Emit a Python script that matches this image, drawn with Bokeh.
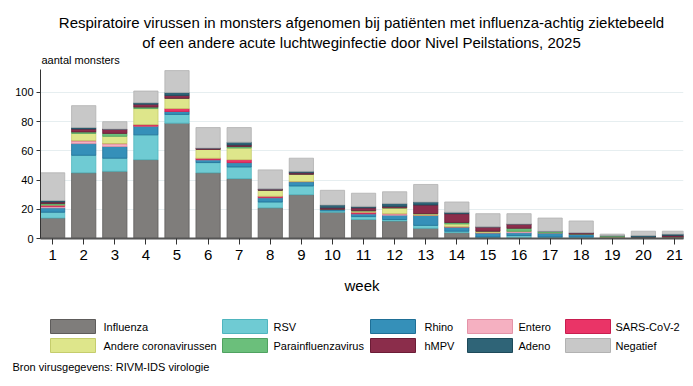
from bokeh.plotting import figure
from bokeh.models import FixedTicker, Range1d, ColumnDataSource, Title
from bokeh.layouts import column
from bokeh.core.properties import value
from bokeh.embed import file_html
from bokeh.resources import INLINE

weeks = list(range(1, 22))
week_labels = [str(w) for w in weeks]

series_names = ["Influenza", "RSV", "Rhino", "Entero", "SARS-CoV-2",
                "Andere coronavirussen", "Parainfluenzavirus", "hMPV", "Adeno", "Negatief"]

influenza = [14, 45, 46, 54, 79, 45, 41, 21, 30, 18, 13, 12, 7, 4, 1, 0, 0, 0, 0, 0, 0]
rsv       = [4, 12, 9, 17, 6, 7, 8, 4, 6, 1, 2, 1, 2, 1, 0, 2, 1, 1, 0, 0, 0]
rhino     = [3, 8, 8, 6, 2, 2, 3, 3, 3, 1, 2, 3, 7, 3, 3, 2, 3, 2, 0, 1, 1]
entero    = [1, 2, 2, 0, 0, 0, 0, 0, 0, 0, 0, 1, 0, 0, 0, 1, 0, 0, 0, 0, 0]
sars      = [1, 0, 0, 1, 2, 1, 2, 1, 0, 0, 1, 0, 0, 0, 0, 0, 0, 0, 1, 0, 0]
andere    = [0, 5, 5, 11, 7, 6, 8, 4, 5, 0, 1, 4, 1, 2, 1, 0, 0, 0, 0, 0, 0]
para      = [1, 1, 2, 1, 0, 0, 1, 0, 0, 0, 0, 0, 0, 1, 0, 2, 1, 0, 1, 0, 0]
hmpv      = [1, 2, 3, 2, 2, 1, 1, 1, 1, 1, 2, 1, 6, 6, 3, 3, 0, 1, 0, 0, 1]
adeno     = [1, 1, 0, 1, 2, 0, 2, 0, 1, 2, 1, 2, 2, 1, 0, 0, 0, 0, 0, 1, 1]
negatief  = [19, 15, 5, 8, 15, 14, 10, 13, 9, 10, 9, 8, 12, 7, 9, 7, 9, 8, 1, 3, 2]

series_values = [influenza, rsv, rhino, entero, sars, andere, para, hmpv, adeno, negatief]

fill_colors = ["#7f7d7b", "#6fcbd3", "#3590b9", "#f5b0c1", "#ea3467",
               "#dee68b", "#6bbf7b", "#8b2d4b", "#2f6477", "#c8c8c8"]
line_colors = ["#5e5c5b", "#4fb5be", "#1f6f96", "#e493a8", "#c81d4f",
               "#c5cd6c", "#4fa260", "#6c1c36", "#1e4a5a", "#b2b2b2"]

title_lines = ["Respiratoire virussen in monsters afgenomen bij patiënten met influenza-achtig ziektebeeld",
               "of een andere acute luchtweginfectie door Nivel Peilstations, 2025"]
y_label = "aantal monsters"
source_note = "Bron virusgegevens: RIVM-IDS virologie"

FONT = "Liberation Sans"
W = 693
LEFT, RIGHT = 40, 10  # page x of frame: 40 .. 683


def blank_fig(y_top, y_bottom, height, bottom_border=0):
    f = figure(width=W, height=height, output_backend="svg", toolbar_location=None,
               x_range=Range1d(LEFT, W - RIGHT), y_range=Range1d(y_bottom, y_top),
               x_axis_type=None, y_axis_type=None,
               min_border_left=LEFT, min_border_right=RIGHT,
               min_border_top=0, min_border_bottom=bottom_border)
    f.outline_line_color = None
    f.xgrid.visible = False
    f.ygrid.visible = False
    return f


# ---- top: title ----
top = blank_fig(0, 64, 64)
top.text(x=[361, 361], y=[22, 42], text=title_lines, text_align="center",
         text_baseline="middle", text_font=value(FONT), text_font_size="15px",
         text_color="black")
top.text(x=[41], y=[59], text=[y_label], text_align="left", text_baseline="middle",
         text_font=value(FONT), text_font_size="11px", text_color="black")

# ---- main chart ----
keys = ["s%d" % i for i in range(len(series_names))]
data = {"week": weeks}
for k, v in zip(keys, series_values):
    data[k] = v
source = ColumnDataSource(data)

p = figure(width=W, height=236, output_backend="svg", toolbar_location=None,
           x_range=Range1d(0.61, 21.29), y_range=Range1d(0, 115.75),
           min_border_left=LEFT, min_border_right=RIGHT, min_border_top=5,
           min_border_bottom=62)
p.outline_line_color = None

renderers = p.vbar_stack(keys, x="week", width=0.78, source=source,
                         fill_color=fill_colors, line_color=line_colors,
                         line_width=1, line_alpha=0.8)

p.xaxis.ticker = FixedTicker(ticks=weeks)
p.xaxis.major_label_overrides = {w: l for w, l in zip(weeks, week_labels)}
p.xaxis.axis_line_width = 2
p.xaxis.axis_line_color = "#555555"
p.xaxis.major_tick_line_color = "#333333"
p.xaxis.major_tick_out = 6
p.xaxis.major_tick_in = 0
p.xaxis.minor_tick_line_color = None
p.xaxis.major_label_text_font = FONT
p.xaxis.major_label_text_font_size = "15px"
p.xaxis.major_label_text_color = "black"
p.xaxis.major_label_standoff = 5
p.xaxis.axis_label = "week"
p.xaxis.axis_label_text_font = FONT
p.xaxis.axis_label_text_font_size = "15px"
p.xaxis.axis_label_text_font_style = "normal"
p.xaxis.axis_label_text_color = "black"
p.xaxis.axis_label_standoff = 14

p.yaxis.ticker = FixedTicker(ticks=[0, 20, 40, 60, 80, 100])
p.yaxis.axis_line_color = "#333333"
p.yaxis.major_tick_line_color = "#333333"
p.yaxis.major_tick_out = 4
p.yaxis.major_tick_in = 0
p.yaxis.minor_tick_line_color = None
p.yaxis.major_label_text_font = FONT
p.yaxis.major_label_text_font_size = "11px"
p.yaxis.major_label_text_color = "black"
p.yaxis.major_label_standoff = 3

p.xgrid.grid_line_color = None
p.ygrid.grid_line_color = "#e6eef0"
p.ygrid.ticker = FixedTicker(ticks=[20, 40, 60, 80, 100])

# ---- bottom: legend and source ----
bot = blank_fig(300, 358, 86, bottom_border=28)
col_left = [50, 222, 370, 467, 565]
label_left = [103, 273, 424, 518, 615]
row_y = [326, 345]
order = [[0, 5], [1, 6], [2, 7], [3, 8], [4, 9]]
sw_x, sw_y, sw_f, sw_l, lab_x, lab_y, lab_t = [], [], [], [], [], [], []
for cx, lx, idxs in zip(col_left, label_left, order):
    for ry, i in zip(row_y, idxs):
        sw_x.append(cx + 22.5)
        sw_y.append(ry)
        sw_f.append(fill_colors[i])
        sw_l.append(line_colors[i])
        lab_x.append(lx)
        lab_y.append(ry)
        lab_t.append(series_names[i])
bot.rect(x=sw_x, y=sw_y, width=45, height=14, fill_color=sw_f, line_color=sw_l,
         line_width=1)
bot.text(x=lab_x, y=lab_y, text=lab_t, text_align="left", text_baseline="middle",
         text_font=value(FONT), text_font_size="11px", text_color="black")
bot.add_layout(Title(text=source_note, align="left", offset=-28, standoff=0,
                     text_font=FONT, text_font_size="11px", text_font_style="normal",
                     text_color="black"), "below")

layout = column(top, p, bot, spacing=0)
open("out.html", "w").write(file_html(layout, INLINE))
